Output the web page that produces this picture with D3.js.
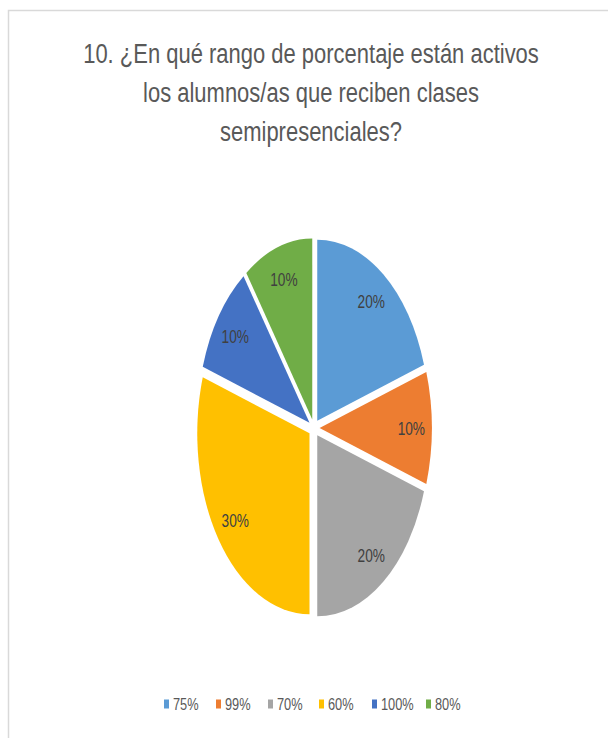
<!DOCTYPE html>
<html>
<head>
<meta charset="utf-8">
<script src="https://cdn.jsdelivr.net/npm/d3@7"></script>
<style>
  body { margin: 0; background: #fff; }
  svg { display: block; }
  text { font-family: "Liberation Sans", Arial, sans-serif; }
</style>
</head>
<body>
<div id="chart"></div>
<script>
// Chart data
const categories = ["75%", "99%", "70%", "60%", "100%", "80%"];
const values = [20, 10, 20, 30, 10, 10];
const colors = ["#5B9BD5", "#ED7D31", "#A5A5A5", "#FFC000", "#4472C4", "#70AD47"];
const titleLines = [
  "10. ¿En qué rango de porcentaje están activos",
  "los alumnos/as que reciben clases",
  "semipresenciales?"
];

const width = 608;
const height = 738;

const svg = d3.select("#chart")
  .append("svg")
  .attr("width", width)
  .attr("height", height);

// chart area border (only left/top visible in the frame)
svg.append("rect")
  .attr("x", 8.5)
  .attr("y", 10.5)
  .attr("width", 620)
  .attr("height", 760)
  .attr("fill", "#fff")
  .attr("stroke", "#d9d9d9")
  .attr("stroke-width", 1.5);

// Title
const title = svg.append("g");
const titleText = title.selectAll("text")
  .data(titleLines)
  .enter()
  .append("text")
  .attr("x", 0)
  .attr("y", (d, i) => 63 + i * 39)
  .attr("text-anchor", "middle")
  .attr("fill", "#595959")
  .style("font-size", "28px")
  .text((d) => d);
// the picture is squeezed horizontally, fit first line to its width
const w0 = titleText.nodes()[0].getComputedTextLength();
const kTitle = 456 / w0;
title.attr("transform", `translate(311,0) scale(${kTitle},1)`);

// Pie (circle space, then squeezed to an ellipse)
const cx = 314, cy = 428, R = 181, sx = 0.62, explode = 9;

const pie = d3.pie().sort(null).value((d) => d.value);
const arcs = pie(categories.map((c, i) => ({ cat: c, value: values[i] })));
const arc = d3.arc().innerRadius(0).outerRadius(R);
const total = d3.sum(values);

const g = svg.append("g")
  .attr("transform", `translate(${cx},${cy}) scale(${sx},1)`);

g.selectAll("path")
  .data(arcs)
  .enter()
  .append("path")
  .attr("d", arc)
  .attr("fill", (d, i) => colors[i])
  .attr("transform", (d) => {
    const a = (d.startAngle + d.endAngle) / 2;
    return `translate(${explode * Math.sin(a)},${-explode * Math.cos(a)})`;
  });

// data labels
const labelR = 148 + explode;
svg.selectAll("text.lbl")
  .data(arcs)
  .enter()
  .append("text")
  .attr("class", "lbl")
  .attr("text-anchor", "middle")
  .attr("fill", "#404040")
  .style("font-size", "19px")
  .attr("transform", (d) => {
    const a = (d.startAngle + d.endAngle) / 2;
    const x = cx + sx * labelR * Math.sin(a);
    const y = cy - labelR * Math.cos(a);
    return `translate(${x},${y + 7}) scale(0.72,1)`;
  })
  .text((d) => Math.round((d.value / total) * 100) + "%");

// Legend
const legendPos = [164, 216, 268, 319, 372, 426];
const legend = svg.selectAll("g.leg")
  .data(categories)
  .enter()
  .append("g")
  .attr("class", "leg")
  .attr("transform", (d, i) => `translate(${legendPos[i]},704)`);

legend.append("rect")
  .attr("x", 0)
  .attr("y", -4.5)
  .attr("width", 5)
  .attr("height", 9)
  .attr("fill", (d, i) => colors[i]);

legend.append("text")
  .attr("transform", "translate(9,5.5) scale(0.8,1)")
  .attr("fill", "#595959")
  .style("font-size", "16px")
  .text((d) => d);
</script>
</body>
</html>
